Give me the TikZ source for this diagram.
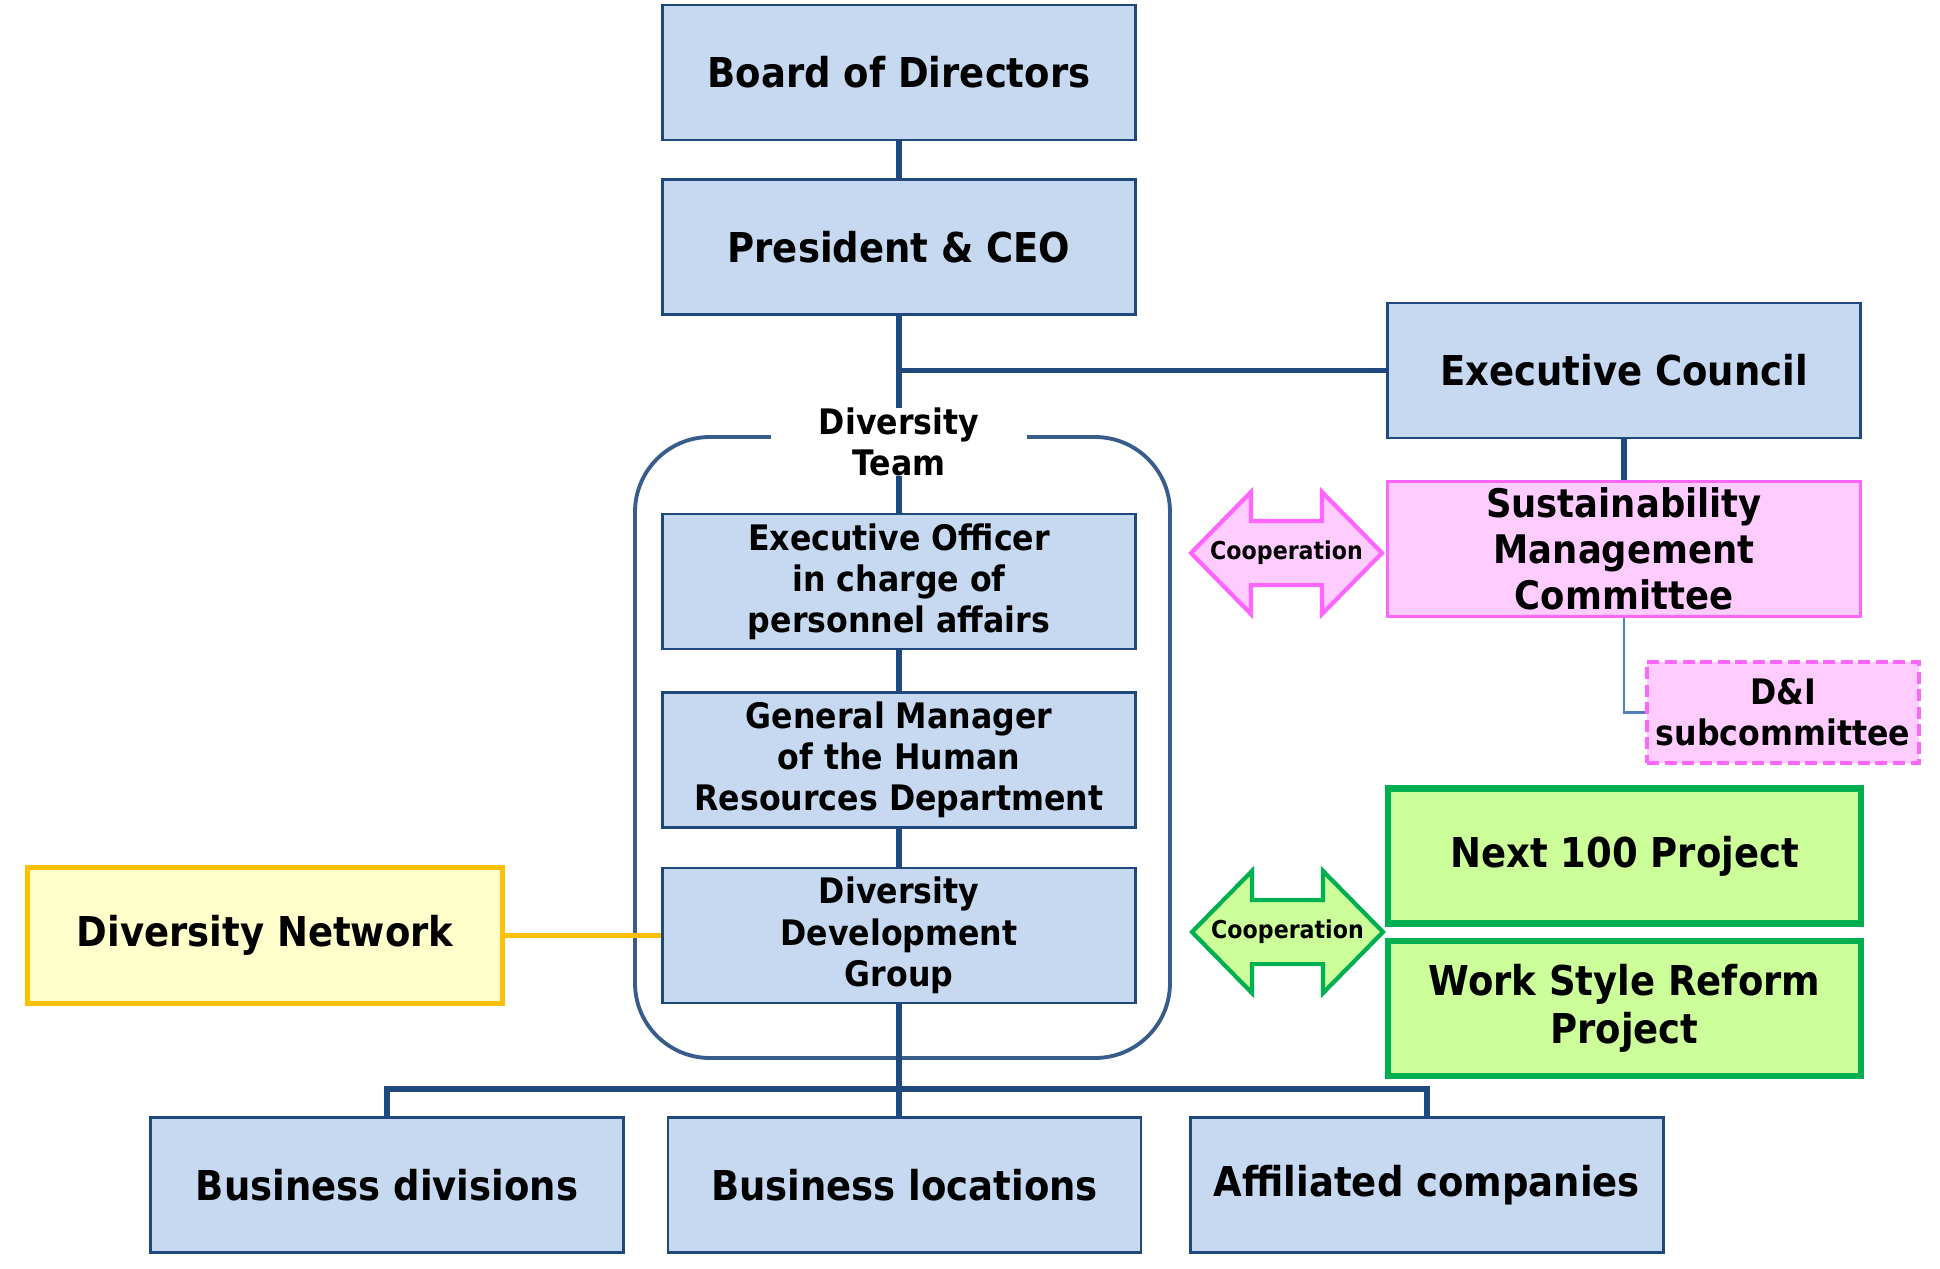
\documentclass[tikz,border=0pt]{standalone}
\usepackage{fontspec}
\setmainfont{DejaVu Sans}[FakeStretch=0.9]
\usetikzlibrary{positioning,shapes.arrows}
\definecolor{Navy}{HTML}{1F497D}
\definecolor{Frame}{HTML}{385D8A}
\definecolor{Pale}{HTML}{C6D9F1}
\definecolor{Pink}{HTML}{FF66FF}
\definecolor{PalePink}{HTML}{FFCCFF}
\definecolor{Gold}{HTML}{FFC000}
\definecolor{Cream}{HTML}{FFFFCC}
\definecolor{Green}{HTML}{00B050}
\definecolor{Lime}{HTML}{CCFF99}
\definecolor{Steel}{HTML}{4F81BD}
\tikzset{
  unit/.style={draw=Navy,fill=Pale,line width=.7pt,minimum width=4.73cm,
    minimum height=1.35cm,inner sep=0pt,align=center,font=\fontsize{11.7}{13.7}\selectfont\bfseries},
  smallunit/.style={unit,font=\fontsize{10}{11.7}\selectfont\bfseries},
  pinkunit/.style={unit,draw=Pink,fill=PalePink,line width=.8pt,font=\fontsize{11.2}{13.1}\selectfont\bfseries},
  subunit/.style={smallunit,draw=Pink,fill=PalePink,line width=.9pt,dash pattern=on 3.4pt off 1.6pt,
    minimum width=2.72cm,minimum height=1.01cm},
  greenunit/.style={unit,draw=Green,fill=Lime,line width=1.8pt},
  netunit/.style={unit,draw=Gold,fill=Cream,line width=1.5pt,minimum width=4.75cm,minimum height=1.36cm},
  teamframe/.style={draw=Frame,line width=1.1pt,rounded corners=7.5mm,minimum width=5.35cm,minimum height=6.21cm},
  teamtag/.style={fill=white,inner sep=0pt,minimum width=2.56cm,align=center,font=\fontsize{10}{11.7}\selectfont\bfseries},
  coop/.style={double arrow,double arrow head extend=.29cm,double arrow tip angle=91,inner sep=0pt,
    minimum height=1.91cm,minimum width=1.18cm,line width=1.2pt,
    label={[font=\fontsize{7}{8}\selectfont\bfseries]center:Cooperation}},
  link/.style={draw=Navy,line width=1.6pt},
  thinlink/.style={draw=Steel,line width=.6pt},
  netlink/.style={draw=Gold,line width=1.5pt}
}
\begin{document}
\begin{tikzpicture}[x=0.1mm,y=-0.1mm]
    \useasboundingbox (0,0) rectangle (1940,1269);
    \node[teamframe] (team) at (902.5,747.5) {};
    \node[unit] (board) at (899,72.5) {Board of Directors};
    \node[unit,below=.37cm of board] (ceo) {President \& CEO};
    \node[unit] (council) at (1624,370.5) {Executive Council};
    \node[pinkunit,below=.41cm of council] (smc) {Sustainability\\Management\\Committee};
    \node[subunit] (dni) at (1783,712.5) {D\&I\\subcommittee};
    \node[smallunit] (officer) at (899,581.5) {Executive Officer\\in charge of\\personnel affairs};
    \node[smallunit,below=.41cm of officer] (gm) {General Manager\\of the Human\\Resources Department};
    \node[smallunit,below=.38cm of gm] (ddg) {Diversity\\Development\\Group};
    \node[netunit,left=1.56cm of ddg] (network) {Diversity Network};
    \node[greenunit] (next) at (1624.5,856) {Next 100 Project};
    \node[greenunit,below=.11cm of next] (wsr) {Work Style Reform\\Project};
    \node[unit] (locations) at (904.5,1185) {Business locations};
    \node[unit,left=.42cm of locations] (divisions) {Business divisions};
    \node[unit,right=.47cm of locations] (affiliates) {Affiliated companies};
    \node[coop,draw=Pink,fill=PalePink] (coop1) at (1286.5,553) {\rule[-3mm]{0pt}{6mm}};
    \node[coop,draw=Green,fill=Lime] (coop2) at (1287.5,932) {\rule[-3mm]{0pt}{6mm}};
    \coordinate (bus) at (899,1089);
    \draw[link] (board) -- (ceo);
    \draw[link] (ceo.south) -- (ceo.south |- officer.north);
    \draw[link] (ceo.south |- council.west) -- (council.west);
    \draw[link] (council) -- (smc);
    \draw[thinlink] (smc.south) |- (dni.west);
    \draw[link] (officer.south) -- (officer.south |- gm.north);
    \draw[link] (gm.south) -- (gm.south |- ddg.north);
    \draw[link] (ddg.south) -- (ddg.south |- locations.north);
    \draw[link] (divisions.north) |- (bus) -| (affiliates.north);
    \draw[netlink] (network) -- (ddg);
    \node[teamtag] (tag) at (899,442) {Diversity\\Team};
  \end{tikzpicture}
\end{document}
